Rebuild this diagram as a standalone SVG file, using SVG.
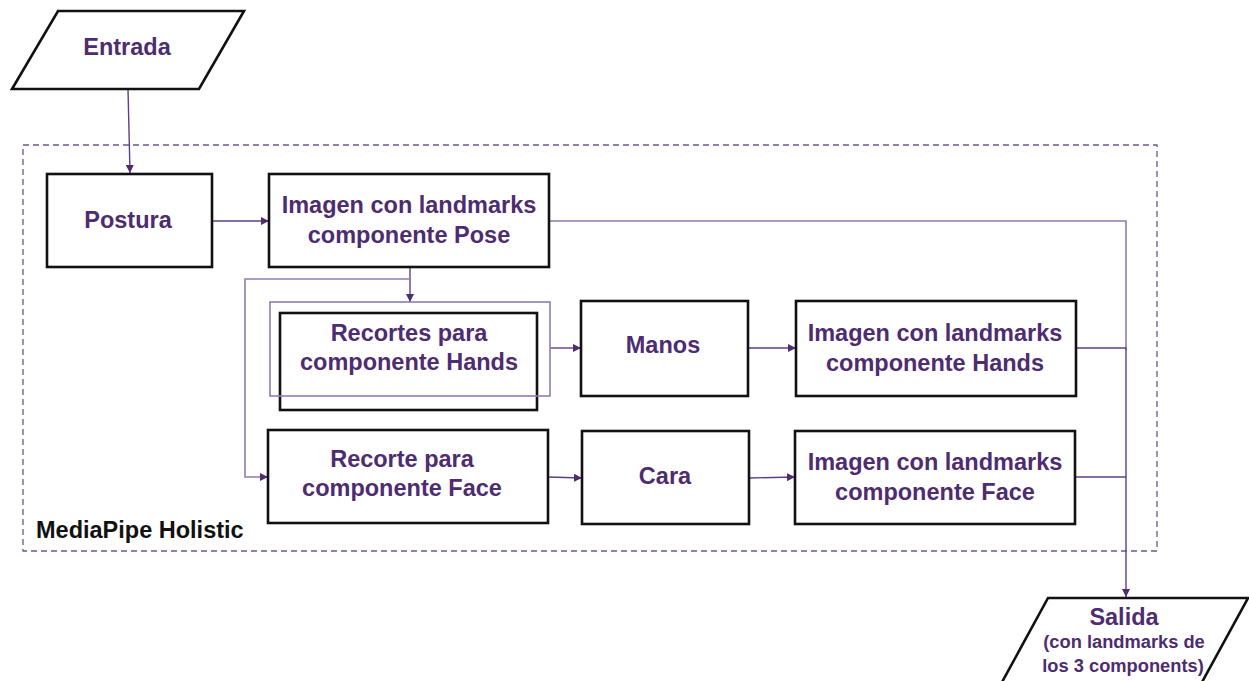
<svg xmlns="http://www.w3.org/2000/svg" width="1249" height="681" viewBox="0 0 1249 681">
<defs>
<style>
.box{fill:#fff;stroke:#111;stroke-width:2.6}
.t{font-family:"Liberation Sans",Arial,sans-serif;font-weight:bold;font-size:23.5px;fill:#4e2c70;text-anchor:middle}
.ts{font-family:"Liberation Sans",Arial,sans-serif;font-weight:bold;font-size:18.3px;fill:#4e2c70;text-anchor:middle}
.lbl{font-family:"Liberation Sans",Arial,sans-serif;font-weight:bold;font-size:23.5px;fill:#111}
.c{fill:none;stroke:#5d3f86;stroke-width:1.4}
.cl{fill:none;stroke:#8f7cb0;stroke-width:1.6}
</style>
<marker id="ah" viewBox="0 0 10 10" refX="10" refY="5" markerWidth="8" markerHeight="8" markerUnits="userSpaceOnUse" orient="auto">
<path d="M0,0 L10,5 L0,10 z" fill="#4e2c70"/>
</marker>
</defs>
<rect width="1249" height="681" fill="#fff"/>
<g id="container">
<rect x="23" y="145" width="1134" height="406" fill="none" stroke="#6a5590" stroke-width="1.3" stroke-dasharray="6 4"/>
<text class="lbl" x="36" y="538">MediaPipe Holistic</text>
</g>
<g id="connectors">
<path class="c" d="M128,89 L130,173" marker-end="url(#ah)"/>
<path class="c" d="M212,221 L269,221" marker-end="url(#ah)"/>
<path class="cl" d="M549,221 L1126,221 L1126,350"/>
<path class="c" d="M410,267 L410,302" marker-end="url(#ah)"/>
<path class="cl" d="M410,279 L245,279 L245,477 L268,477"/>
<path class="c" d="M262,477 L268,477" marker-end="url(#ah)"/>
<path class="c" d="M550,348 L581,348" marker-end="url(#ah)"/>
<path class="c" d="M748,348 L796,348" marker-end="url(#ah)"/>
<path class="c" d="M548,477 L582,478" marker-end="url(#ah)"/>
<path class="c" d="M749,478 L795,477" marker-end="url(#ah)"/>
<path class="c" d="M1076,348 L1126,348 L1126,597" stroke-width="1.8" marker-end="url(#ah)"/>
<path class="c" d="M1075,477 L1126,477"/>
</g>
<g id="entrada">
<polygon class="box" points="58,11 244,11 199,89 12,89"/>
<text class="t" x="127" y="55">Entrada</text>
</g>
<g id="postura">
<rect class="box" x="47" y="174" width="165" height="93"/>
<text class="t" x="128" y="228">Postura</text>
</g>
<g id="pose">
<rect class="box" x="269" y="174" width="280" height="93"/>
<text class="t" x="409" y="213">Imagen con landmarks</text>
<text class="t" x="409" y="243">componente Pose</text>
</g>
<g id="recortes-hands">
<rect class="box" x="280" y="313" width="257" height="97"/>
<rect x="270" y="302" width="280" height="94" fill="none" stroke="#8f7cb0" stroke-width="1.6"/>
<text class="t" x="409" y="341">Recortes para</text>
<text class="t" x="409" y="370">componente Hands</text>
</g>
<g id="manos">
<rect class="box" x="581" y="301" width="167" height="95"/>
<text class="t" x="663" y="353">Manos</text>
</g>
<g id="hands-lm">
<rect class="box" x="796" y="301" width="280" height="95"/>
<text class="t" x="935" y="341">Imagen con landmarks</text>
<text class="t" x="935" y="371">componente Hands</text>
</g>
<g id="recorte-face">
<rect class="box" x="268" y="430" width="280" height="93"/>
<text class="t" x="402" y="467">Recorte para</text>
<text class="t" x="402" y="496">componente Face</text>
</g>
<g id="cara">
<rect class="box" x="582" y="431" width="167" height="93"/>
<text class="t" x="665" y="484">Cara</text>
</g>
<g id="face-lm">
<rect class="box" x="795" y="431" width="280" height="93"/>
<text class="t" x="935" y="470">Imagen con landmarks</text>
<text class="t" x="935" y="500">componente Face</text>
</g>
<g id="salida">
<polygon class="box" points="1048,598 1248,598 1201,684 1001,684"/>
<text class="t" x="1124" y="625">Salida</text>
<text class="ts" x="1124" y="648">(con landmarks de</text>
<text class="ts" x="1123" y="672">los 3 components)</text>
</g>
</svg>
